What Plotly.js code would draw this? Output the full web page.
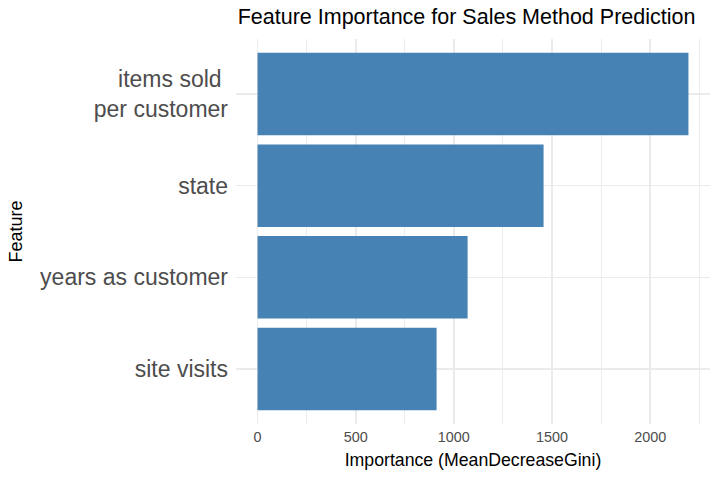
<!DOCTYPE html>
<html>
<head>
<meta charset="utf-8">
<script src="https://cdn.plot.ly/plotly-3.0.1.min.js"></script>
<style>html,body{margin:0;padding:0;background:#fff}#chart{width:720px;height:480px}</style>
</head>
<body>
<div id="chart"></div>
<script>
// Data (bottom to top)
const features = ["site visits", "years as customer", "state", "items sold\u00a0<br>per customer"];
const importance = [912, 1070, 1457, 2195];
const xTickVals = [0, 500, 1000, 1500, 2000];
const xTickText = ["0", "500", "1000", "1500", "2000"];

const maxVal = Math.max(...importance);
const trace = {
  type: "bar",
  orientation: "h",
  x: importance,
  y: features,
  width: 0.9,
  marker: {color: "#4682B4", line: {width: 0}},
  hoverinfo: "x+y"
};

const layout = {
  width: 720, height: 480,
  margin: {l: 236, r: 10, t: 39, b: 56},
  paper_bgcolor: "#ffffff",
  plot_bgcolor: "#ffffff",
  font: {family: "Liberation Sans, Arial, sans-serif", color: "#000"},
  title: {
    text: "Feature Importance for Sales Method Prediction",
    font: {size: 21.5, color: "#000"},
    x: 0.648, xanchor: "center", y: 0.965, yanchor: "middle"
  },
  showlegend: false,
  bargap: 0.1,
  xaxis: {
    range: [-0.05 * maxVal, 1.05 * maxVal],
    tickvals: xTickVals,
    ticktext: xTickText,
    showgrid: true,
    gridcolor: "#ebebeb",
    gridwidth: 1.6,
    minor: {dtick: 250, tick0: 0, showgrid: true, gridcolor: "#ebebeb", gridwidth: 0.9},
    zeroline: false,
    showline: false,
    ticks: "",
    tickfont: {size: 14.4, color: "#4d4d4d"},
    ticklabelstandoff: 3,
    title: {text: "Importance (MeanDecreaseGini)", font: {size: 17.7, color: "#000"}, standoff: 9},
    fixedrange: true
  },
  yaxis: {
    type: "category",
    categoryorder: "array",
    categoryarray: features,
    range: [-0.6, 3.6],
    showgrid: true,
    gridcolor: "#ebebeb",
    gridwidth: 1.6,
    zeroline: false,
    showline: false,
    ticks: "",
    tickfont: {size: 23, color: "#4d4d4d"},
    ticklabelstandoff: 7,
    title: {text: "Feature", font: {size: 18, color: "#000"}, standoff: 12},
    fixedrange: true
  }
};

Plotly.newPlot("chart", [trace], layout, {displayModeBar: false, staticPlot: true});
</script>
</body>
</html>
